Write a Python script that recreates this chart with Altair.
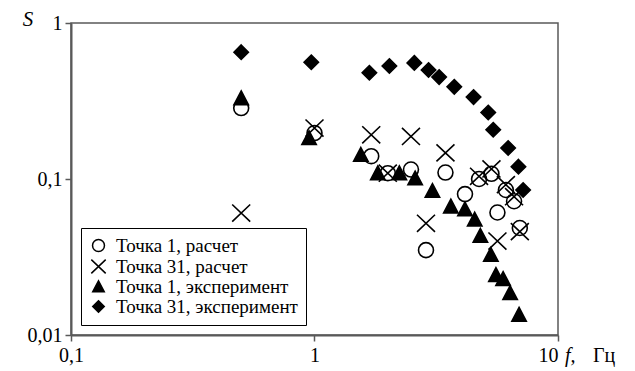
import altair as alt
import pandas as pd

# Series names, in legend order
SERIES = [
    "Точка 1, расчет",
    "Точка 31, расчет",
    "Точка 1, эксперимент",
    "Точка 31, эксперимент",
]

# Frequency f (Hz) and spectral value S for each series
f_calc1 = [0.5, 1.0, 1.71, 2.0, 2.49, 2.87, 3.45, 4.15, 4.74, 5.33, 5.64, 6.11, 6.6, 6.97]
s_calc1 = [0.285, 0.197, 0.14, 0.109, 0.115, 0.035, 0.11, 0.08, 0.1, 0.108, 0.061, 0.085, 0.072, 0.0485]

f_calc31 = [0.5, 1.0, 1.71, 2.0, 2.49, 2.87, 3.45, 4.74, 5.33, 5.64, 6.11, 6.6, 6.97]
s_calc31 = [0.0605, 0.212, 0.192, 0.109, 0.1875, 0.052, 0.147, 0.104, 0.116, 0.040, 0.092, 0.077, 0.046]

f_exp1 = [0.5, 0.95, 1.55, 1.82, 2.23, 2.59, 3.05, 3.63, 4.15, 4.55, 4.8, 5.3, 5.56, 5.95, 6.36, 6.92]
s_exp1 = [0.33, 0.183, 0.143, 0.109, 0.109, 0.101, 0.084, 0.0667, 0.064, 0.055, 0.0433, 0.0327,
          0.0243, 0.0229, 0.0186, 0.0135]

f_exp31 = [0.5, 0.97, 1.68, 2.03, 2.57, 2.94, 3.25, 3.75, 4.5, 5.17, 5.42, 6.24, 6.88, 7.19]
s_exp31 = [0.65, 0.56, 0.48, 0.53, 0.555, 0.50, 0.45, 0.39, 0.335, 0.267, 0.207, 0.158, 0.12, 0.085]

X_TICKS = [0.1, 1, 10]
Y_TICKS = [0.01, 0.1, 1]

rows = []
for name, fs, ss in zip(SERIES,
                        [f_calc1, f_calc31, f_exp1, f_exp31],
                        [s_calc1, s_calc31, s_exp1, s_exp31]):
    rows += [{"series": name, "f": a, "S": b} for a, b in zip(fs, ss)]
df = pd.DataFrame(rows)

FONT = "Liberation Serif"
GRAY = "#595959"
COMMA = "replace(toString(datum.value), '.', ',')"

# Marker outlines: open circle, X cross, filled triangle, filled diamond
SHAPES = [
    "M-0.83,0A0.83,0.83,0,1,0,0.83,0A0.83,0.83,0,1,0,-0.83,0Z",
    "M-1,-0.95L1,0.95M-1,0.95L1,-0.95",
    "M0,-0.8L0.8,0.72L-0.8,0.72Z",
    "M0,-0.8L0.8,0L0,0.8L-0.8,0Z",
]
FILLS = ["transparent", "transparent", "black", "black"]

points = alt.Chart(df).mark_point(size=324, strokeWidth=1.6, opacity=1).encode(
    x=alt.X(
        "f:Q",
        scale=alt.Scale(type="log", domain=[0.1, 10], nice=False),
        axis=alt.Axis(
            values=X_TICKS, title=None, grid=False, labelExpr=COMMA,
            domainColor=GRAY, domainWidth=2, tickColor=GRAY, tickWidth=1.5, tickSize=6,
            labelFont=FONT, labelFontSize=20, labelColor="black", labelPadding=4,
            labelAlign={"condition": {"test": "datum.value >= 10", "value": "right"}, "value": "center"},
        ),
    ),
    y=alt.Y(
        "S:Q",
        scale=alt.Scale(type="log", domain=[0.01, 1], nice=False),
        axis=alt.Axis(
            values=Y_TICKS, title=None, grid=False, labelExpr=COMMA,
            domainColor=GRAY, domainWidth=2, tickColor=GRAY, tickWidth=1.5, tickSize=6,
            labelFont=FONT, labelFontSize=20, labelColor="black", labelPadding=3,
        ),
    ),
    shape=alt.Shape("series:N", scale=alt.Scale(domain=SERIES, range=SHAPES), title=None),
    fill=alt.Fill("series:N", scale=alt.Scale(domain=SERIES, range=FILLS), title=None),
    stroke=alt.Stroke("series:N", scale=alt.Scale(domain=SERIES, range=["black"] * 4), title=None),
)

y_title = alt.Chart(pd.DataFrame({"t": ["S"]})).mark_text(
    font=FONT, fontSize=21, fontStyle="italic", align="center", baseline="middle", color="black"
).encode(x=alt.value(-43), y=alt.value(-3), text="t:N")

x_title_f = alt.Chart(pd.DataFrame({"t": ["f,"]})).mark_text(
    font=FONT, fontSize=20, fontStyle="italic", align="left", baseline="middle", color="black"
).encode(x=alt.value(494), y=alt.value(333), text="t:N")

x_title_unit = alt.Chart(pd.DataFrame({"t": ["Гц"]})).mark_text(
    font=FONT, fontSize=20, align="left", baseline="middle", color="black"
).encode(x=alt.value(522), y=alt.value(333), text="t:N")

chart = alt.layer(points, y_title, x_title_f, x_title_unit).properties(
    width=487,
    height=312,
    autosize=alt.AutoSizeParams(type="none"),
    padding={"left": 71, "top": 23, "right": 77, "bottom": 36},
    background="white",
).configure_view(
    stroke=GRAY, strokeWidth=1.5
).configure_legend(
    orient="none", legendX=10, legendY=205,
    padding=8, strokeColor="black", fillColor="white",
    labelFont=FONT, labelFontSize=19, labelColor="black", labelOffset=8,
    symbolSize=207, symbolStrokeWidth=1.5, rowPadding=0, labelLimit=400,
)

chart.save("out.html", embed_options={"renderer": "svg", "actions": False})
